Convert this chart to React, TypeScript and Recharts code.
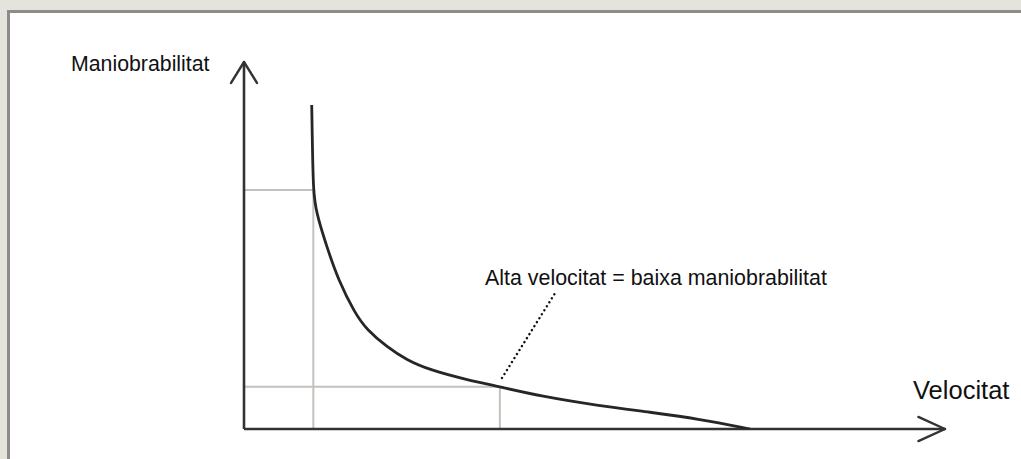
import { LineChart, Line, XAxis, YAxis, ReferenceLine } from "recharts";

// Manoeuvrability falls off as velocity rises (arbitrary units, 0–10 on both axes)
const velocity = [
  0.966, 0.977, 0.989, 1.027, 1.18, 1.345, 1.583, 1.755, 2.036, 2.32, 2.65,
  3.18, 3.65, 4.22, 5.08, 5.79, 6.5, 7.22,
];
const manoeuvrability = [
  8.83, 7.6, 6.51, 5.91, 4.97, 4.06, 3.15, 2.7, 2.24, 1.88, 1.61, 1.34, 1.15,
  0.9, 0.63, 0.46, 0.27, 0,
];

// the two reading points marked with guide lines
const guideVelocity = [0.989, 3.65];
const guideManoeuvrability = [6.51, 1.15];

// leader from the curve up to the annotation
const leaderFrom = { v: 3.68, m: 1.39 };
const leaderTo = { v: 4.44, m: 3.71 };

const curve = velocity.map((v, i) => ({ v, m: manoeuvrability[i] }));

const AXIS = "#333333";
const GUIDE = "#c4c0bb";
const INK = "#111111";
const FONT = "'Liberation Sans', Arial, Helvetica, sans-serif";

export default function App() {
  return (
    <div
      style={{
        position: "relative",
        width: 1021,
        height: 459,
        background: "#e5e4dc",
        overflow: "hidden",
        fontFamily: FONT,
      }}
    >
      <style>{`body{margin:0}`}</style>
      <div
        style={{
          position: "absolute",
          left: 7,
          top: 10,
          width: 1040,
          height: 480,
          background: "#ffffff",
          borderLeft: "3px solid #8c8d89",
          borderTop: "3px solid #8c8d89",
        }}
      />
      <div style={{ position: "absolute", left: 0, top: 0 }}>
        <LineChart
          width={1021}
          height={459}
          data={curve}
          margin={{ top: 62, left: 244, right: 76, bottom: 30 }}
        >
          <XAxis
            type="number"
            dataKey="v"
            domain={[0, 10]}
            allowDataOverflow
            height={0}
            tick={false}
            tickLine={false}
            axisLine={false}
          />
          <YAxis
            type="number"
            dataKey="m"
            domain={[0, 10]}
            allowDataOverflow
            width={0}
            tick={false}
            tickLine={false}
            axisLine={false}
          />

          {/* guide lines to the two reading points */}
          {guideVelocity.map((gv, i) => (
            <ReferenceLine
              key={`h${i}`}
              segment={[
                { x: 0, y: guideManoeuvrability[i] },
                { x: gv, y: guideManoeuvrability[i] },
              ]}
              stroke={GUIDE}
              strokeWidth={2}
            />
          ))}
          {guideVelocity.map((gv, i) => (
            <ReferenceLine
              key={`v${i}`}
              segment={[
                { x: gv, y: 0 },
                { x: gv, y: guideManoeuvrability[i] },
              ]}
              stroke={GUIDE}
              strokeWidth={2}
            />
          ))}

          {/* axes with open arrowheads */}
          <ReferenceLine
            segment={[{ x: 0, y: 0 }, { x: 10, y: 0 }]}
            stroke={AXIS}
            strokeWidth={2.6}
          />
          <ReferenceLine
            segment={[{ x: 0, y: 0 }, { x: 0, y: 10 }]}
            stroke={AXIS}
            strokeWidth={2.6}
          />
          <ReferenceLine
            segment={[{ x: 9.62, y: 0.33 }, { x: 10, y: 0 }]}
            stroke={AXIS}
            strokeWidth={2.4}
            strokeLinecap="round"
            ifOverflow="visible"
          />
          <ReferenceLine
            segment={[{ x: 9.62, y: -0.33 }, { x: 10, y: 0 }]}
            stroke={AXIS}
            strokeWidth={2.4}
            strokeLinecap="round"
            ifOverflow="visible"
          />
          <ReferenceLine
            segment={[{ x: -0.185, y: 9.43 }, { x: 0, y: 10 }]}
            stroke={AXIS}
            strokeWidth={2.4}
            strokeLinecap="round"
            ifOverflow="visible"
          />
          <ReferenceLine
            segment={[{ x: 0.185, y: 9.43 }, { x: 0, y: 10 }]}
            stroke={AXIS}
            strokeWidth={2.4}
            strokeLinecap="round"
            ifOverflow="visible"
          />

          {/* dotted leader to the annotation */}
          <ReferenceLine
            segment={[
              { x: leaderFrom.v, y: leaderFrom.m },
              { x: leaderTo.v, y: leaderTo.m },
            ]}
            stroke={INK}
            strokeWidth={2.4}
            strokeDasharray="0.1 4.6"
            strokeLinecap="round"
          />

          <Line
            type="basis"
            dataKey="m"
            stroke="#262626"
            strokeWidth={2.8}
            dot={false}
            activeDot={false}
            isAnimationActive={false}
          />
        </LineChart>
      </div>

      <div style={labelStyle(71, 73, 21.3)}>Maniobrabilitat</div>
      <div style={labelStyle(485, 287, 21.4)}>
        Alta velocitat = baixa maniobrabilitat
      </div>
      <div style={labelStyle(913, 401, 25.5)}>Velocitat</div>
    </div>
  );
}

// place a text so its baseline sits at y
function labelStyle(x: number, baseline: number, size: number) {
  return {
    position: "absolute" as const,
    left: x,
    top: baseline - size * 0.905 - (size * 0.15) / 2,
    fontSize: size,
    lineHeight: `${size * 1.15}px`,
    color: INK,
    whiteSpace: "nowrap" as const,
  };
}
